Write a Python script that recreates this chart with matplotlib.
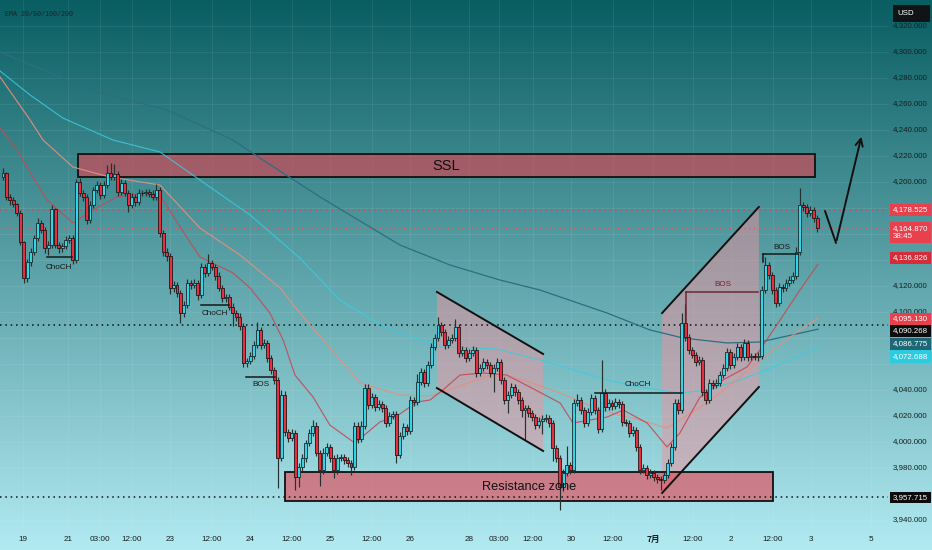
import numpy as np
import matplotlib
matplotlib.use("Agg")
import matplotlib.pyplot as plt
from matplotlib.patches import Rectangle, Polygon

# ---------------- data (prices) ----------------
first_open = 4203.8
closes = [
    4206.9, 4188.5, 4186.2, 4183.1, 4176.2, 4153.8, 4126.2, 4138.5, 4146.2, 4156.9,
    4168.5, 4163.1, 4149.2, 4151.5, 4179.2, 4151.5, 4149.2, 4150.8, 4155.4, 4156.9,
    4140.0, 4200.0, 4191.5, 4188.5, 4170.8, 4182.3, 4193.8, 4197.7, 4190.0, 4197.7,
    4206.9, 4203.8, 4206.2, 4192.3, 4199.2, 4191.5, 4182.3, 4188.5, 4184.6, 4191.5,
    4191.2, 4192.3, 4190.8, 4188.5, 4193.8, 4160.8, 4146.2, 4143.1, 4118.5, 4120.8,
    4114.6, 4099.2, 4105.4, 4122.3, 4120.8, 4122.3, 4113.1, 4134.6, 4130.0, 4137.7,
    4134.6, 4127.7, 4118.5, 4110.8, 4111.5, 4103.8, 4099.2, 4096.2, 4089.2, 4060.8,
    4062.3, 4066.2, 4074.6, 4086.2, 4074.6, 4076.2, 4064.6, 4055.4, 4047.7, 3987.7,
    4036.2, 4007.7, 4003.1, 4006.9, 3973.1, 3980.8, 3987.7, 3999.2, 4006.9, 4012.3,
    3991.5, 3978.5, 3991.5, 3996.2, 3987.7, 3978.5, 3987.7, 3988.5, 3986.2, 3983.8,
    3980.8, 4012.3, 4002.3, 4012.3, 4041.5, 4028.5, 4034.6, 4026.9, 4029.2, 4026.2,
    4014.6, 4020.0, 4021.5, 3990.0, 4004.6, 4011.5, 4008.5, 4032.3, 4030.8, 4046.2,
    4053.8, 4045.4, 4059.2, 4073.1, 4080.0, 4090.0, 4084.6, 4074.6, 4078.5, 4080.0,
    4088.5, 4068.5, 4070.8, 4064.6, 4068.5, 4070.8, 4053.1, 4056.9, 4061.5, 4059.2,
    4053.1, 4056.9, 4061.5, 4047.7, 4032.3, 4036.2, 4042.3, 4038.5, 4032.3, 4024.6,
    4026.2, 4022.3, 4019.2, 4013.1, 4016.2, 4017.7, 4018.5, 4014.6, 3995.4, 3987.7,
    3965.4, 3976.2, 3982.3, 3978.5, 4030.0, 4032.3, 4024.6, 4014.6, 4023.1, 4033.8,
    4024.6, 4010.0, 4037.7, 4026.9, 4030.0, 4027.7, 4030.8, 4029.2, 4015.4, 4014.6,
    4006.9, 4009.2, 3996.2, 3978.5, 3980.0, 3974.6, 3976.2, 3973.1, 3971.5, 3970.8,
    3974.6, 3983.8, 3996.2, 4030.0, 4024.6, 4091.5, 4080.8, 4070.8, 4066.9, 4061.5,
    4063.1, 4038.5, 4032.3, 4045.4, 4043.8, 4045.4, 4051.5, 4056.9, 4069.2, 4059.2,
    4065.4, 4073.1, 4065.4, 4076.2, 4065.4, 4066.2, 4065.4, 4066.2, 4116.9, 4136.2,
    4128.5, 4116.9, 4106.9, 4119.2, 4118.5, 4122.3, 4124.6, 4127.7, 4146.2, 4182.3,
    4180.8, 4176.2, 4178.5, 4172.3, 4164.9,
]
upper_wick = [
    4, 1, 2, 2, 1, 2, 1, 2, 3, 2,   4, 2, 2, 3, 3, 1, 2, 2, 3, 2,
    2, 2, 3, 2, 2, 3, 2, 3, 2, 3,   6, 8, 8, 2, 3, 2, 2, 3, 2, 3,
    2, 2, 2, 3, 5, 2, 2, 3, 2, 3,   2, 2, 3, 3, 2, 3, 2, 3, 2, 7,
    2, 2, 3, 2, 2, 2, 3, 2, 3, 2,   2, 3, 3, 6, 2, 3, 2, 2, 2, 2,
    4, 3, 2, 3, 2, 3, 3, 2, 3, 5,   3, 2, 4, 3, 2, 2, 3, 2, 2, 2,
    2, 3, 3, 4, 3, 3, 3, 2, 3, 2,   2, 3, 2, 2, 3, 3, 2, 3, 2, 6,
    3, 2, 3, 3, 3, 6, 2, 2, 3, 3,   6, 2, 3, 2, 3, 3, 2, 3, 3, 2,
    2, 3, 3, 2, 2, 3, 3, 2, 2, 2,   2, 2, 2, 2, 3, 3, 3, 2, 2, 2,
    2, 3, 15, 2, 3, 5, 2, 2, 3, 3,  2, 2, 25, 3, 3, 2, 3, 2, 2, 2,
    2, 3, 2, 2, 3, 2, 3, 2, 2, 2,   2, 3, 3, 3, 3, 8, 15, 2, 2, 2,
    3, 2, 2, 3, 2, 3, 3, 3, 3, 2,   3, 3, 2, 3, 2, 2, 2, 3, 3, 6,
    2, 2, 2, 3, 2, 3, 3, 3, 4, 13,  2, 2, 3, 2, 2,
]
lower_wick = [
    2, 2, 4, 2, 2, 2, 4, 3, 3, 2,   2, 2, 4, 5, 2, 2, 4, 3, 2, 2,
    3, 2, 2, 3, 3, 2, 2, 2, 3, 2,   2, 2, 2, 3, 2, 2, 5, 2, 3, 2,
    2, 2, 2, 2, 2, 3, 3, 4, 5, 3,   3, 8, 3, 2, 3, 2, 4, 2, 3, 2,
    2, 3, 2, 3, 3, 2, 10, 3, 3, 3,  3, 2, 2, 2, 3, 2, 3, 3, 3, 23,
    2, 3, 3, 2, 10, 8, 3, 3, 2, 2,  2, 12, 3, 2, 3, 6, 3, 2, 3, 3,
    6, 2, 3, 2, 2, 3, 2, 3, 2, 3,   3, 2, 2, 6, 2, 2, 3, 2, 3, 2,
    2, 3, 2, 2, 2, 2, 3, 3, 2, 2,   2, 3, 2, 3, 2, 2, 3, 2, 2, 3,
    3, 15, 2, 3, 3, 10, 2, 3, 3, 5, 23, 3, 3, 3, 2, 10, 2, 3, 10, 3,
    18, 3, 2, 3, 2, 2, 3, 3, 2, 2,  3, 3, 2, 3, 2, 3, 2, 3, 3, 2,
    3, 2, 3, 3, 2, 3, 2, 3, 3, 8,   2, 2, 2, 2, 3, 2, 3, 3, 2, 3,
    2, 3, 3, 2, 3, 2, 2, 2, 2, 3,   2, 2, 3, 2, 3, 2, 2, 3, 2, 2,
    3, 3, 3, 2, 3, 2, 2, 2, 2, 2,   3, 3, 2, 3, 3,
]

# EMA lines, read at points along each line (candle position, price)
ema20_pos = [-0.86, 4.0, 12.6, 20.1, 25.9, 32.8, 40.2, 45.1, 50.9, 56.6, 66.1, 71.0, 76.7, 80.5,
             83.9, 89.1, 93.9, 101.1, 108.3, 113.2, 119.0, 122.7, 126.4, 131.3, 137.9, 144.8,
             151.4, 160.1, 163.8, 173.6, 178.2, 185.1, 190.8, 194.5, 200.3, 206.9, 213.8,
             217.5, 223.3, 229.0, 234.2]
ema20_val = [4241.5, 4224.6, 4186.2, 4168.5, 4178.5, 4188.5, 4191.5, 4190.0, 4165.4, 4142.3,
             4130.0, 4118.5, 4099.2, 4078.5, 4051.5, 4034.6, 4013.1, 3999.2, 4015.4, 4020.0,
             4030.8, 4032.3, 4040.0, 4051.5, 4053.1, 4051.5, 4042.3, 4030.0, 4014.6, 4019.2,
             4024.6, 4014.6, 3996.2, 4006.9, 4034.6, 4047.7, 4057.7, 4070.8, 4093.8, 4116.9,
             4136.826]
ema50_pos = [-0.86, 7.8, 11.5, 20.1, 30.7, 45.1, 56.6, 68.1, 79.6, 85.3, 94.0, 102.6, 114.1,
             122.7, 130.5, 139.9, 149.4, 160.1, 171.6, 183.0, 190.8, 202.3, 211.8, 221.3,
             229.0, 234.2]
ema50_val = [4280.8, 4247.7, 4232.3, 4211.5, 4203.8, 4197.7, 4164.6, 4143.8, 4118.5, 4099.2,
             4072.3, 4045.4, 4036.2, 4035.4, 4042.3, 4051.5, 4047.7, 4037.7, 4024.6, 4016.9,
             4010.8, 4030.0, 4050.0, 4070.8, 4086.2, 4095.130]
ema100_pos = [-0.86, 7.8, 17.2, 31.6, 45.1, 56.6, 71.0, 85.3, 96.8, 106.3, 113.2, 126.4, 142.0,
              154.3, 173.6, 183.0, 194.5, 202.3, 211.8, 221.3, 234.2]
ema100_val = [4285.4, 4266.9, 4249.2, 4232.3, 4223.1, 4201.5, 4174.6, 4141.5, 4109.2, 4093.8,
              4084.6, 4073.1, 4071.5, 4063.1, 4047.7, 4042.3, 4037.7, 4040.0, 4047.7, 4057.7,
              4072.688]
ema200_pos = [-0.86, 18.4, 27.9, 39.4, 47.1, 66.1, 74.7, 91.1, 114.1, 128.4, 142.8, 154.3,
              173.6, 185.9, 195.4, 208.0, 217.5, 234.2]
ema200_val = [4300.0, 4278.5, 4268.5, 4260.8, 4255.4, 4232.3, 4216.9, 4188.5, 4151.5, 4136.2,
              4124.6, 4116.9, 4099.2, 4086.2, 4080.0, 4076.2, 4076.9, 4086.775]

price_ticks = list(range(3940, 4321, 20))
hidden_ticks = [4180, 4160, 4140, 4080, 4060, 3960]   # covered by price tags in the chart
time_labels = ["19", "21", "03:00", "12:00", "23", "12:00", "24", "12:00", "25", "12:00", "26",
               "28", "03:00", "12:00", "30", "12:00", "7月", "12:00", "2", "12:00", "3", "5"]
time_pos = [5.75, 18.7, 27.9, 37.1, 48.0, 60.1, 71.0, 83.0, 94.0, 106.0, 117.0,
            133.9, 142.5, 152.3, 163.2, 175.3, 186.8, 198.3, 209.2, 221.3, 232.2, 249.4]

level_red1 = 4178.525
level_red2 = 4164.870
level_blk1 = 4090.268
level_blk2 = 3957.715

# ---------------- layout helpers (pixel -> data, layout only) ----------------
W, H = 932, 550
def px(x):
    return (x - 3) / 3.48
def py(y):
    return 4340 - y / 1.3

plt.rcParams['font.family'] = ['Liberation Sans', 'DejaVu Sans']
AX_FS = 5.7
TIME_FS = 5.9
SMALL_FS = 5.9

fig = plt.figure(figsize=(W / 100, H / 100), dpi=100)
ax = fig.add_axes([0, 0, 1, 1])
X0, X1, Y0, Y1 = px(0), px(W), py(H), py(0)
ax.set_xlim(X0, X1)
ax.set_ylim(Y0, Y1)
ax.axis('off')

# background gradient
top = np.array([9, 94, 98]) / 255
bot = np.array([178, 234, 242]) / 255
t = np.linspace(0, 1, 256)[:, None]
grad = (top[None, :] * (1 - t) + bot[None, :] * t)[:, None, :]
ax.imshow(grad, extent=[X0, X1, Y0, Y1], aspect='auto', zorder=0, interpolation='bilinear')

# grid
PLOT_R = px(888)
PLOT_B = py(527)
ax.hlines(price_ticks, X0, PLOT_R, colors='white', alpha=0.07, lw=0.8, zorder=0.5)
ax.vlines(time_pos, PLOT_B, Y1, colors='white', alpha=0.07, lw=0.8, zorder=0.5)

# channels (shaded parallelograms)
desc_l, desc_r = 124.7, 155.2
desc_top = (4115.4, 4067.7)
desc_bot = (4041.5, 3993.1)
ax.add_patch(Polygon([(desc_l, desc_top[0]), (desc_r, desc_top[1]), (desc_r, desc_bot[1]), (desc_l, desc_bot[0])],
                     closed=True, facecolor='#f0929f', alpha=0.5, edgecolor='none', zorder=1))
ax.plot([desc_l, desc_r], desc_top, color='#111111', lw=1.4, zorder=4)
ax.plot([desc_l, desc_r], desc_bot, color='#111111', lw=1.4, zorder=4)

rise_l, rise_r = 189.4, 217.2
rise_top = (4099.2, 4180.8)
rise_bot = (3960.8, 4042.3)
ax.add_patch(Polygon([(rise_l, rise_top[0]), (rise_r, rise_top[1]), (rise_r, rise_bot[1]), (rise_l, rise_bot[0])],
                     closed=True, facecolor='#f0929f', alpha=0.5, edgecolor='none', zorder=1))
ax.plot([rise_l, rise_r], rise_top, color='#111111', lw=1.4, zorder=4)
ax.plot([rise_l, rise_r], rise_bot, color='#111111', lw=1.4, zorder=4)

# zones
ssl_l, ssl_r, ssl_lo, ssl_hi = 21.55, 233.3, 4203.8, 4221.5
res_l, res_r, res_lo, res_hi = 81.0, 221.3, 3954.6, 3976.9
for (l, r, lo_, hi_) in [(ssl_l, ssl_r, ssl_lo, ssl_hi), (res_l, res_r, res_lo, res_hi)]:
    ax.add_patch(Rectangle((l, lo_), r - l, hi_ - lo_, facecolor='#e8404f', alpha=0.6,
                           edgecolor='none', zorder=1.2))
    ax.add_patch(Rectangle((l, lo_), r - l, hi_ - lo_, facecolor='none',
                           edgecolor='#111111', lw=1.3, zorder=1.3))

# horizontal dotted levels
ax.hlines(level_red1, X0, PLOT_R, colors='#e8414e', lw=1.1, linestyles=(0, (1, 2.5)), zorder=1.5)
ax.hlines(level_red2, X0, PLOT_R, colors='#d8606c', lw=1.0, linestyles=(0, (1, 2.5)), zorder=1.5)
ax.hlines(level_blk1, X0, PLOT_R, colors='#111111', lw=1.1, linestyles=(0, (1, 2.5)), zorder=1.5)
ax.hlines(level_blk2, X0, PLOT_R, colors='#111111', lw=1.1, linestyles=(0, (1, 2.5)), zorder=1.5)

# EMAs
ax.plot(ema200_pos, ema200_val, color='#2b6f80', lw=0.9, zorder=2)
ax.plot(ema100_pos, ema100_val, color='#38cde2', lw=0.8, alpha=0.85, zorder=2)
ax.plot(ema50_pos, ema50_val, color='#e88e7e', lw=0.85, alpha=0.9, zorder=2)
ax.plot(ema20_pos, ema20_val, color='#c44a55', lw=0.85, alpha=0.9, zorder=2)

# candles
c = np.array(closes)
o = np.array([first_open] + closes[:-1])
hi = np.maximum(o, c) + np.array(upper_wick)
lo = np.minimum(o, c) - np.array(lower_wick)
xi = np.arange(len(c))
up = c >= o
bb = np.minimum(o, c)
bh = np.maximum(np.abs(c - o), 0.7)
ax.vlines(xi, lo, hi, colors='#26302f', lw=0.85, zorder=3)
ax.bar(xi[up], bh[up], bottom=bb[up], width=0.84, color='#33d4e6', edgecolor='#18292b', linewidth=0.6, zorder=3.1)
ax.bar(xi[~up], bh[~up], bottom=bb[~up], width=0.84, color='#e6303d', edgecolor='#241416', linewidth=0.6, zorder=3.1)

# structure annotations
TXT = '#141a1b'
def seg(x0, x1, yv, col=TXT):
    ax.plot([x0, x1], [yv, yv], color=col, lw=1.1, zorder=4)

def lab(x, y, s, col=TXT):
    ax.text(x, y, s, fontsize=SMALL_FS, color=col, ha='center', va='center', zorder=5)

seg(12.6, 19.8, 4142.3); lab(16.1, 4134.6, 'ChoCH')
seg(56.9, 64.9, 4105.4); lab(60.9, 4098.5, 'ChoCH')
seg(69.8, 78.2, 4050.0); lab(74.1, 4044.6, 'BOS')
seg(170.1, 195.1, 4037.7); lab(182.5, 4044.6, 'ChoCH')
MAR = '#6e2632'
seg(196.3, 217.0, 4115.4, MAR)
ax.plot([196.3, 196.3], [4115.4, 4091.5], color=MAR, lw=1.1, zorder=4)
lab(206.9, 4121.5, 'BOS', MAR)
seg(218.4, 228.4, 4144.6)
ax.plot([218.4, 218.4], [4144.6, 4138.5], color=TXT, lw=1.1, zorder=4)
lab(223.9, 4150.0, 'BOS')

ax.text((ssl_l + ssl_r) / 2, (ssl_lo + ssl_hi) / 2, 'SSL', fontsize=10.5, color='#111111',
        ha='center', va='center', zorder=5)
ax.text((res_l + res_r) / 2, (res_lo + res_hi) / 2, 'Resistance zone', fontsize=9.2, color='#111111',
        ha='center', va='center', zorder=5)

# projection arrow
ax.plot([px(825), px(836)], [py(211), py(243)], color='#111111', lw=1.4, zorder=5, solid_capstyle='round')
ax.annotate('', xy=(px(862), py(134)), xytext=(px(836), py(243)),
            arrowprops=dict(arrowstyle='->', lw=1.4, color='#111111', mutation_scale=13), zorder=5)

# price axis labels
AX_TXT = '#17201f'
for p in price_ticks:
    if p in hidden_ticks:
        continue
    ax.text(px(893), p, f"{p:,.3f}", fontsize=AX_FS, color=AX_TXT, ha='left', va='center', zorder=5)

# time axis labels
for pos, s in zip(time_pos, time_labels):
    if s == '7月':
        ax.text(pos, py(539), s, fontsize=6.2, color=AX_TXT, ha='center', va='center', fontweight='bold',
                family=['Noto Sans CJK SC', 'DejaVu Sans'], zorder=5)
    else:
        ax.text(pos, py(539), s, fontsize=TIME_FS, color=AX_TXT, ha='center', va='center', zorder=5)

# coloured price tags (text, top px, bottom px, bg, fg)
tags = [
    (f"{level_red1:,.3f}", 204, 216, '#e8404d', 'white'),
    (f"{level_red2:,.3f}\n38:45", 222, 243, '#e8404d', 'white'),
    (f"{ema20_val[-1]:,.3f}", 252, 264, '#d52c39', 'white'),
    (f"{ema50_val[-1]:,.3f}", 313, 325, '#e8404d', 'white'),
    (f"{level_blk1:,.3f}", 325, 337, '#0c0c0c', 'white'),
    (f"{ema200_val[-1]:,.3f}", 338, 350, '#1e6776', 'white'),
    (f"{ema100_val[-1]:,.3f}", 350, 363, '#2ccbe0', 'white'),
    (f"{level_blk2:,.3f}", 492, 503, '#0c0c0c', 'white'),
]
for txt, t0, t1, bg, fg in tags:
    ax.add_patch(Rectangle((px(890), py(t1)), px(931) - px(890), py(t0) - py(t1), facecolor=bg,
                           edgecolor='none', zorder=6))
    ax.text(px(893), (py(t0) + py(t1)) / 2, txt, fontsize=AX_FS, color=fg, ha='left', va='center',
            linespacing=1.0, zorder=7)

# USD box
ax.add_patch(Rectangle((px(893), py(22)), px(930) - px(893), py(5) - py(22), facecolor='#101416',
                       edgecolor='none', zorder=6))
ax.text(px(897), py(13.5), 'USD', fontsize=AX_FS, color='white', ha='left', va='center', zorder=7)

# indicator legend
ax.text(px(5), py(14), 'EMA 20/50/100/200', fontsize=4.9, color='#1a2426', ha='left', va='center',
        family=['Liberation Mono', 'DejaVu Sans Mono'], zorder=7)

fig.savefig('out.png', dpi=100)
